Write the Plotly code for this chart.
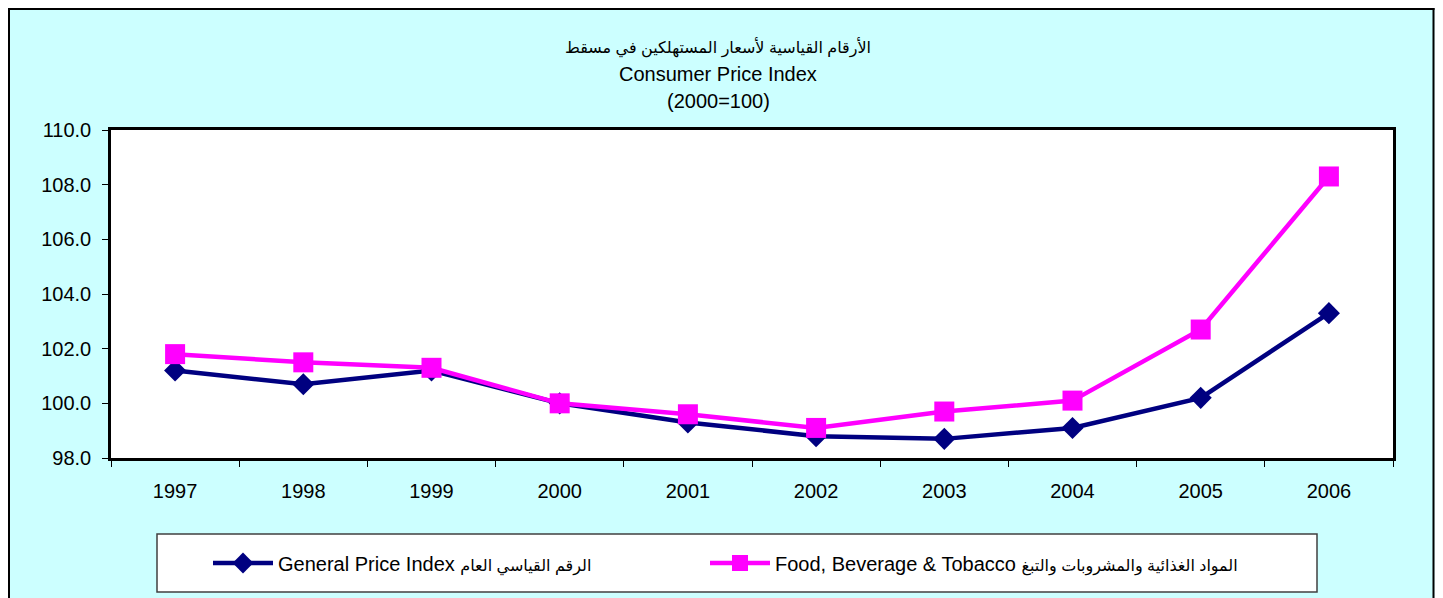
import plotly.graph_objects as go

years = ["1997", "1998", "1999", "2000", "2001", "2002", "2003", "2004", "2005", "2006"]
general_index = [101.2, 100.7, 101.2, 100.0, 99.3, 98.8, 98.7, 99.1, 100.2, 103.3]
food_index = [101.8, 101.5, 101.3, 100.0, 99.6, 99.1, 99.7, 100.1, 102.7, 108.3]
y_ticks = [98, 100, 102, 104, 106, 108, 110]

AR = '<span style="font-size:16px">{}</span>'
name_general = "General Price Index " + AR.format("الرقم القياسي العام")
name_food = "Food, Beverage & Tobacco " + AR.format("المواد الغذائية والمشروبات والتبغ")
title_lines = [AR.format("الأرقام القياسية لأسعار المستهلكين في مسقط"), "Consumer Price Index", "(2000=100)"]

# page offset of the figure (browser body margin)
OFF = 8
W, H = 1443 - OFF, 598 - OFF
# plot area in page pixels
PL, PR, PT, PB = 111, 1393, 130, 458
PW, PH = PR - PL, PB - PT
L, T = PL - OFF, PT - OFF
R, B = W - L - PW, H - T - PH

def px(x):
    return (x - PL) / PW

def py(y):
    return (PB - y) / PH

FONT = "Liberation Sans, Arial, DejaVu Sans, sans-serif"
FS = 20

fig = go.Figure()
fig.add_trace(go.Scatter(
    x=years, y=general_index, name=name_general, mode="lines+markers",
    line=dict(color="#000080", width=4.5),
    marker=dict(symbol="diamond", size=17, color="#000080"),
    legend="legend",
))
fig.add_trace(go.Scatter(
    x=years, y=food_index, name=name_food, mode="lines+markers",
    line=dict(color="#FF00FF", width=4.5),
    marker=dict(symbol="square", size=20, color="#FF00FF"),
    legend="legend2",
))

shapes = [
    dict(type="rect", xref="paper", yref="paper", x0=px(1434.5), x1=px(1450), y0=py(610), y1=py(0),
         fillcolor="white", line=dict(width=0), layer="below"),
    dict(type="line", xref="paper", yref="paper", x0=px(8), x1=px(1434.5), y0=py(9), y1=py(9),
         line=dict(color="black", width=2)),
    dict(type="line", xref="paper", yref="paper", x0=px(9), x1=px(9), y0=py(8), y1=py(610),
         line=dict(color="black", width=2)),
    dict(type="line", xref="paper", yref="paper", x0=px(1433.5), x1=px(1433.5), y0=py(8), y1=py(610),
         line=dict(color="black", width=2)),
    dict(type="rect", xref="paper", yref="paper", x0=px(157), x1=px(1317), y0=py(592), y1=py(534),
         fillcolor="white", line=dict(color="#404040", width=1.5), layer="below"),
]

annotations = []
for txt, ypix in zip(title_lines, [47, 74, 101]):
    annotations.append(dict(
        text=txt, xref="paper", yref="paper", x=px(718), y=py(ypix),
        xanchor="center", yanchor="middle", showarrow=False,
        font=dict(family=FONT, size=FS, color="black"),
    ))

legend_common = dict(
    orientation="h", yanchor="middle", xanchor="left",
    bgcolor="rgba(0,0,0,0)", borderwidth=0, itemwidth=60,
    font=dict(family=FONT, size=FS, color="black"),
)

fig.update_layout(
    width=W, height=H,
    margin=dict(l=L, r=R, t=T, b=B, autoexpand=False),
    paper_bgcolor="#CCFFFF",
    plot_bgcolor="white",
    font=dict(family=FONT, size=FS, color="black"),
    shapes=shapes,
    annotations=annotations,
    showlegend=True,
    legend=dict(x=px(208), y=py(563), **legend_common),
    legend2=dict(x=px(705), y=py(563), **legend_common),
)

fig.update_xaxes(
    type="category", categoryorder="array", categoryarray=years,
    range=[-0.5, len(years) - 0.5],
    showgrid=False, zeroline=False,
    showline=True, linecolor="black", linewidth=2.5, mirror=True,
    ticks="outside", tickson="boundaries", ticklen=6, tickcolor="black", tickwidth=1,
    ticklabelstandoff=13,
    tickfont=dict(family=FONT, size=FS, color="black"),
)
fig.update_yaxes(
    range=[98, 110], tickvals=y_ticks, tickformat=".1f",
    showgrid=False, zeroline=False,
    showline=True, linecolor="black", linewidth=2.5, mirror=True,
    ticks="outside", ticklen=6, tickcolor="black", tickwidth=1,
    ticklabelstandoff=7,
    tickfont=dict(family=FONT, size=FS, color="black"),
)

fig.write_html("out.html")
